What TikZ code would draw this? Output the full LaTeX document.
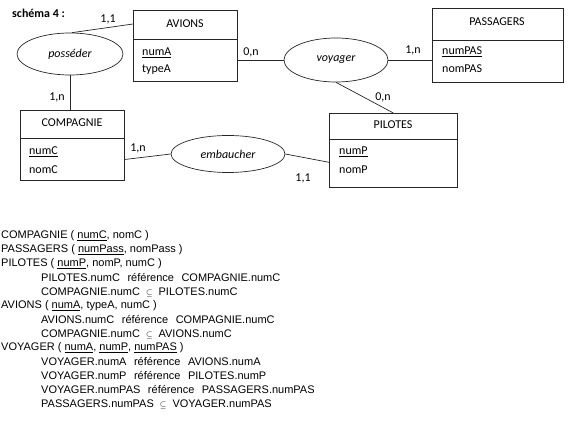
\documentclass[tikz,border=0pt]{standalone}
\usepackage{fontspec}
\setmainfont{Carlito}
\newfontfamily\arialf{Liberation Sans}
\usetikzlibrary{shapes.geometric,calc}
\tikzset{
  entbox/.style={draw=black!85, line width=0.7pt, rectangle, inner sep=0pt, anchor=north west},
  divline/.style={draw=black!85, line width=0.7pt},
  assoc/.style={draw=black!85, line width=0.7pt, ellipse, inner sep=0pt, font=\fontsize{12}{14}\selectfont\itshape},
  conn/.style={draw=black!85, line width=0.7pt},
  ttl/.style={font=\fontsize{12}{14}\selectfont, inner sep=0pt},
  attr/.style={font=\fontsize{12}{14}\selectfont, inner sep=0pt, anchor=west},
  card/.style={font=\fontsize{12}{14}\selectfont, inner sep=0pt},
  rel/.style={font=\arialf\fontsize{11}{13}\selectfont, inner sep=0pt, anchor=west},
}
\newcommand{\inc}{\hspace{6pt}\raisebox{0.3pt}{$\scriptstyle\subseteq$}\hspace{6pt}}
\newcommand{\gap}{\hspace{7.5pt}}
\begin{document}
\begin{tikzpicture}[x=1pt,y=-1pt]
\useasboundingbox (0,0) rectangle (571,433);

\node[font=\fontsize{12}{14}\selectfont\bfseries, inner sep=0pt, anchor=west] (title) at (12,13) {schéma 4 :};

% entities
\node[entbox, minimum width=104pt, minimum height=71pt] (avions) at (133,10) {};
\draw[divline] (133,39) -- (237,39);
\node[ttl] (avt) at (185,24) {AVIONS};
\node[attr] (a1) at (142,53) {\underline{numA}};
\node[attr] (a2) at (142,70) {typeA};

\node[entbox, minimum width=131pt, minimum height=74pt] (pass) at (432,8) {};
\draw[divline] (432,40) -- (563,40);
\node[ttl] (pat) at (497,22) {PASSAGERS};
\node[attr] (p1) at (442,52) {\underline{numPAS}};
\node[attr] (p2) at (442,69) {nomPAS};

\node[entbox, minimum width=104pt, minimum height=70pt] (comp) at (20,110) {};
\draw[divline] (20,138) -- (124,138);
\node[ttl] (cot) at (72,123) {COMPAGNIE};
\node[attr] (c1) at (29,152) {\underline{numC}};
\node[attr] (c2) at (29,170) {nomC};

\node[entbox, minimum width=128pt, minimum height=74pt] (pil) at (329,113) {};
\draw[divline] (329,139) -- (457,139);
\node[ttl] (pit) at (393,125) {PILOTES};
\node[attr] (pi1) at (339,152) {\underline{numP}};
\node[attr] (pi2) at (339,170) {nomP};

% associations
\node[assoc, minimum width=106pt, minimum height=42pt] (poss) at (70,54) {posséder};
\node[assoc, minimum width=104pt, minimum height=44pt] (voy) at (336,60) {voyager};
\node[assoc, minimum width=114pt, minimum height=37pt] (emb) at (228,154) {embaucher};

% connectors
\draw[conn] (avions.west |- avt) -- ($(poss.north)+(2,0)$);
\draw[conn] (poss.south) -- (poss.south |- comp.north);
\draw[conn] (avions.east |- voy.west) -- (voy.west);
\draw[conn] (voy.east) -- (voy.east -| pass.west);
\draw[conn] (voy.south) -- (pil.north);
\draw[conn] ($(comp.south east)!0.3!(comp.north east)$) -- (emb.west);
\draw[conn] (emb.east) -- ($(pil.south west)!0.34!(pil.north west)$);

% cardinalities
\node[card] (k1) at (108,19) {1,1};
\node[card] (k2) at (57,97) {1,n};
\node[card] (k3) at (251,52) {0,n};
\node[card] (k4) at (413,50) {1,n};
\node[card] (k5) at (383,97) {0,n};
\node[card] (k6) at (138,148) {1,n};
\node[card] (k7) at (303,178) {1,1};

% relational schema
\node[rel] (l1) at (1,236) {COMPAGNIE ( \underline{numC}, nomC )};
\node[rel] (l2) at (1,250) {PASSAGERS ( \underline{numPass}, nomPass )};
\node[rel] (l3) at (1,264) {PILOTES ( \underline{numP}, nomP, numC )};
\node[rel] (l4) at (41,278) {PILOTES.numC\gap référence\gap COMPAGNIE.numC};
\node[rel] (l5) at (41,292) {COMPAGNIE.numC\inc PILOTES.numC};
\node[rel] (l6) at (1,306) {AVIONS ( \underline{numA}, typeA, numC )};
\node[rel] (l7) at (41,320) {AVIONS.numC\gap référence\gap COMPAGNIE.numC};
\node[rel] (l8) at (41,334) {COMPAGNIE.numC\inc AVIONS.numC};
\node[rel] (l9) at (1,348) {VOYAGER ( \underline{numA}, \underline{numP}, \underline{numPAS} )};
\node[rel] (l10) at (41,362) {VOYAGER.numA\gap référence\gap AVIONS.numA};
\node[rel] (l11) at (41,376) {VOYAGER.numP\gap référence\gap PILOTES.numP};
\node[rel] (l12) at (41,390) {VOYAGER.numPAS\hspace{4.5pt} référence\gap PASSAGERS.numPAS};
\node[rel] (l13) at (41,404) {PASSAGERS.numPAS\inc VOYAGER.numPAS};
\end{tikzpicture}
\end{document}
